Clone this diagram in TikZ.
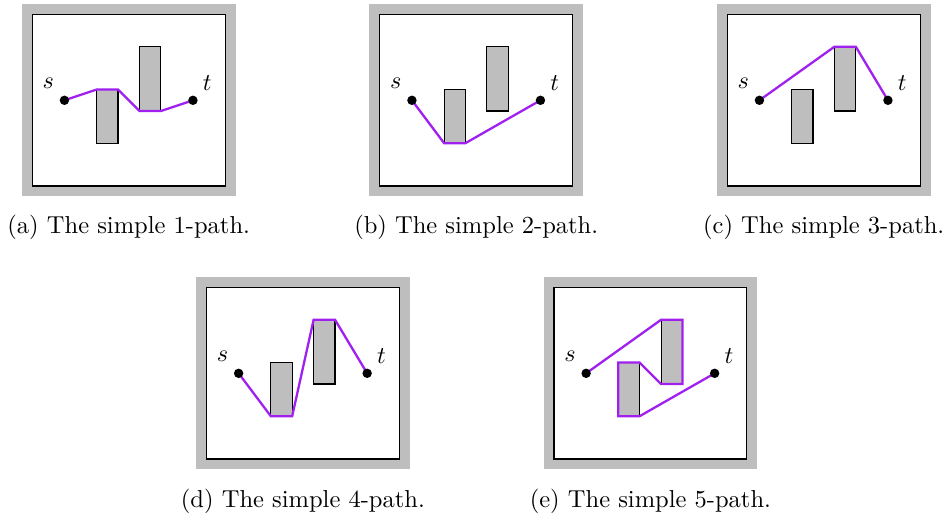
\documentclass[tikz,border=0pt]{standalone}
\definecolor{pathpurple}{RGB}{160,32,240}
\definecolor{framegray}{RGB}{190,190,190}
\tikzset{
  field/.style={fill=white, draw=black, line width=0.45pt},
  obstacle/.style={fill=framegray, draw=black, line width=0.45pt},
  spath/.style={draw=pathpurple, line width=0.95pt, line join=miter},
  terminal/.style={circle, fill=black, inner sep=0pt, minimum size=3.9pt},
  tlabel/.style={inner sep=0pt, font=\fontsize{10.2pt}{12pt}\selectfont},
  caption/.style={anchor=base, inner sep=0pt, font=\fontsize{10.15pt}{12pt}\selectfont}
}
\newcommand\panelbase[1]{%
  \fill[framegray] (-0.49,-0.49) rectangle (9.49,8.49);
  \draw[field] (0,0) rectangle (9,8);
  \draw[obstacle] (3,2) rectangle (4,4.5);
  \draw[obstacle] (5,3.5) rectangle (6,6.5);
  \coordinate (#1-s) at (1.5,4);
  \coordinate (#1-t) at (7.5,4);
  \coordinate (#1-p1) at (3,2);
  \coordinate (#1-p2) at (4,2);
  \coordinate (#1-p3) at (4,4.5);
  \coordinate (#1-p4) at (3,4.5);
  \coordinate (#1-q1) at (5,3.5);
  \coordinate (#1-q2) at (6,3.5);
  \coordinate (#1-q3) at (6,6.5);
  \coordinate (#1-q4) at (5,6.5);
  \node[tlabel] (#1-sl) at (0.75,4.79) {$s$};
  \node[tlabel] (#1-tl) at (8.17,4.79) {$t$};
}
\newcommand\paneldots[1]{%
  \node[terminal] (#1-sdot) at (#1-s) {};
  \node[terminal] (#1-tdot) at (#1-t) {};
}
\begin{document}
\begin{tikzpicture}[x=0.4141pt, y=-0.4141pt]
\useasboundingbox (0,0) rectangle (945,516);
% (a)
\begin{scope}[shift={(32.3,186)}, x=8.87pt, y=8.87pt]
  \panelbase{a}
  \draw[spath] (a-s) -- (a-p4) -- (a-p3) -- (a-q1) -- (a-q2) -- (a-t);
  \paneldots{a}
\end{scope}
% (b)
\begin{scope}[shift={(379.8,186)}, x=8.87pt, y=8.87pt]
  \panelbase{b}
  \draw[spath] (b-s) -- (b-p1) -- (b-p2) -- (b-t);
  \paneldots{b}
\end{scope}
% (c)
\begin{scope}[shift={(727.3,186)}, x=8.87pt, y=8.87pt]
  \panelbase{c}
  \draw[spath] (c-s) -- (c-q4) -- (c-q3) -- (c-t);
  \paneldots{c}
\end{scope}
% (d)
\begin{scope}[shift={(206.5,459)}, x=8.87pt, y=8.87pt]
  \panelbase{d}
  \draw[spath] (d-s) -- (d-p1) -- (d-p2) -- (d-q4) -- (d-q3) -- (d-t);
  \paneldots{d}
\end{scope}
% (e)
\begin{scope}[shift={(554,459)}, x=8.87pt, y=8.87pt]
  \panelbase{e}
  \draw[spath] (e-s) -- (e-q4) -- (e-q3) -- (e-q2) -- (e-q1) -- (e-p3) -- (e-p4) -- (e-p1) -- (e-p2) -- (e-t);
  \paneldots{e}
\end{scope}
% captions
\node[caption] (capa) at (128.7,233.5) {(a) The simple 1-path.};
\node[caption] (capb) at (476.2,233.5) {(b) The simple 2-path.};
\node[caption] (capc) at (823.7,233.5) {(c) The simple 3-path.};
\node[caption] (capd) at (302.9,507.5) {(d) The simple 4-path.};
\node[caption] (cape) at (650.4,507.5) {(e) The simple 5-path.};
\end{tikzpicture}
\end{document}
